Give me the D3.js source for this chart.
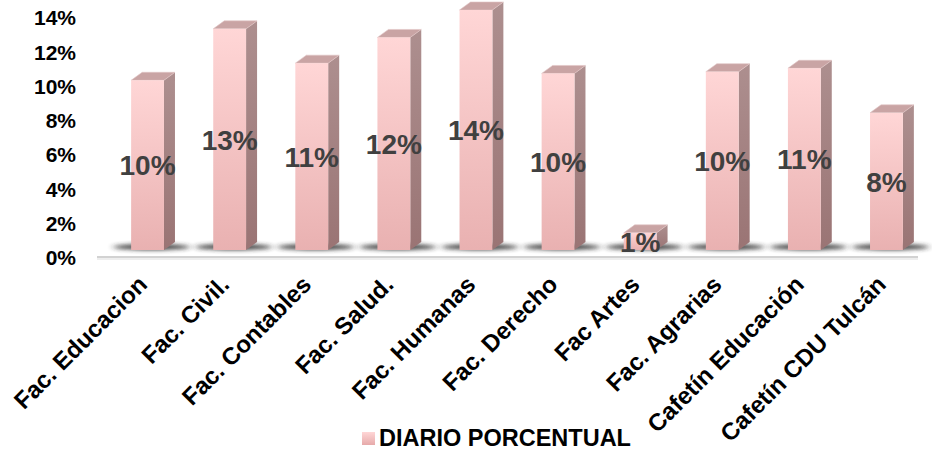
<!DOCTYPE html>
<html>
<head>
<meta charset="utf-8">
<script src="https://cdn.jsdelivr.net/npm/d3@7"></script>
<style>
  html, body { margin: 0; padding: 0; background: #fff; }
  svg { display: block; font-family: "Liberation Sans", Arial, sans-serif; }
</style>
</head>
<body>
<svg id="chart" width="932" height="452"></svg>
<script>
// Daily share per location
const categories = ["Fac. Educacion", "Fac. Civil.", "Fac. Contables", "Fac. Salud.", "Fac. Humanas",
                    "Fac. Derecho", "Fac Artes", "Fac. Agrarias", "Cafetín Educación", "Cafetín CDU Tulcán"];
const values = [0.099, 0.129, 0.109, 0.124, 0.140, 0.103, 0.010, 0.104, 0.106, 0.080];
const tickValues = [0, 0.02, 0.04, 0.06, 0.08, 0.10, 0.12, 0.14];
const seriesName = "DIARIO PORCENTUAL";

const svg = d3.select("#chart");
const pct = d3.format(".0%");

// 3D offsets of the column depth
const DX = 11, DY = 8;

const y = d3.scaleLinear().domain([0, 0.14]).range([258, 18]);
const x = d3.scaleBand().domain(categories).range([106.5, 927.5]).paddingInner(0).paddingOuter(0);
const barW = x.bandwidth() * 0.4;
const baseY = y(0) - DY;

const defs = svg.append("defs");
const gFront = defs.append("linearGradient").attr("id", "gFront").attr("x1", 0).attr("y1", 0).attr("x2", 0).attr("y2", 1);
gFront.append("stop").attr("offset", 0).attr("stop-color", "#ffd6d6");
gFront.append("stop").attr("offset", 1).attr("stop-color", "#e9b1b1");
const gSide = defs.append("linearGradient").attr("id", "gSide").attr("x1", 0).attr("y1", 0).attr("x2", 0).attr("y2", 1);
gSide.append("stop").attr("offset", 0).attr("stop-color", "#ad8f8f");
gSide.append("stop").attr("offset", 1).attr("stop-color", "#9a7474");
const gLeg = defs.append("linearGradient").attr("id", "gLeg").attr("x1", 0).attr("y1", 0).attr("x2", 0).attr("y2", 1);
gLeg.append("stop").attr("offset", 0).attr("stop-color", "#ffd6d6");
gLeg.append("stop").attr("offset", 1).attr("stop-color", "#e6aaaa");
defs.append("filter").attr("id", "blur").attr("x", "-50%").attr("y", "-200%").attr("width", "200%").attr("height", "500%")
  .append("feGaussianBlur").attr("stdDeviation", "3.5 2");

// Floor line
svg.append("line").attr("x1", 97).attr("x2", 918).attr("y1", y(0) - 1).attr("y2", y(0) - 1)
  .attr("stroke", "#d2d2d2").attr("stroke-width", 2);
svg.append("line").attr("x1", 97).attr("x2", 918).attr("y1", y(0) + 1).attr("y2", y(0) + 1)
  .attr("stroke", "#eeeeee").attr("stroke-width", 2);

// Value axis labels
const yAxis = svg.append("g").attr("transform", "translate(76,0)")
  .call(d3.axisLeft(y).tickValues(tickValues).tickFormat(pct).tickSize(0).tickPadding(0));
yAxis.select(".domain").remove();
yAxis.selectAll("text").attr("font-size", 21).attr("font-weight", "bold").attr("fill", "#000")
  .attr("font-family", "Liberation Sans, Arial, sans-serif");

// Base shadows
svg.append("g").selectAll("ellipse").data(categories).join("ellipse")
  .attr("cx", d => x(d) + x.bandwidth() / 2 + 4)
  .attr("cy", baseY - 3)
  .attr("rx", 38).attr("ry", 3)
  .attr("fill", "#2a2a2a").attr("opacity", 0.9)
  .attr("filter", "url(#blur)");

// Columns
const bars = svg.append("g").selectAll("g").data(values).join("g")
  .attr("transform", (d, i) => `translate(${x(categories[i]) + (x.bandwidth() - barW) / 2},0)`);

bars.append("path") // side face
  .attr("d", d => {
    const t = y(d) - DY;
    return `M${barW},${t}L${barW + DX},${t - DY}L${barW + DX},${baseY - DY}L${barW},${baseY}Z`;
  })
  .attr("fill", "url(#gSide)");
bars.append("path") // top face
  .attr("d", d => {
    const t = y(d) - DY;
    return `M0,${t}L${DX},${t - DY}L${barW + DX},${t - DY}L${barW},${t}Z`;
  })
  .attr("fill", "#c9a4a4").attr("stroke", "#e0c4c4").attr("stroke-width", 0.6);
bars.append("rect") // front face
  .attr("x", 0).attr("y", d => y(d) - DY).attr("width", barW)
  .attr("height", d => baseY - (y(d) - DY))
  .attr("fill", "url(#gFront)");

// Value labels
svg.append("g").selectAll("text").data(values).join("text")
  .attr("x", (d, i) => x(categories[i]) + x.bandwidth() / 2)
  .attr("y", d => ((y(d) - DY) + baseY) / 2)
  .attr("dy", "0.36em")
  .attr("text-anchor", "middle")
  .attr("font-size", 28).attr("font-weight", "bold").attr("fill", "#404040")
  .text(d => pct(d));

// Category labels
svg.append("g").selectAll("text").data(categories).join("text")
  .attr("transform", d => `translate(${x(d) + x.bandwidth() / 2 + 1},${286}) rotate(-45)`)
  .attr("text-anchor", "end")
  .attr("font-size", 24).attr("font-weight", "bold").attr("fill", "#000")
  .text(d => d);

// Legend
const leg = svg.append("g").attr("transform", "translate(362,432)");
leg.append("rect").attr("width", 13).attr("height", 13).attr("fill", "url(#gLeg)");
leg.append("text").attr("x", 17).attr("y", 13.5).attr("font-size", 23.5).attr("font-weight", "bold")
  .attr("fill", "#000").text(seriesName);
</script>
</body>
</html>
